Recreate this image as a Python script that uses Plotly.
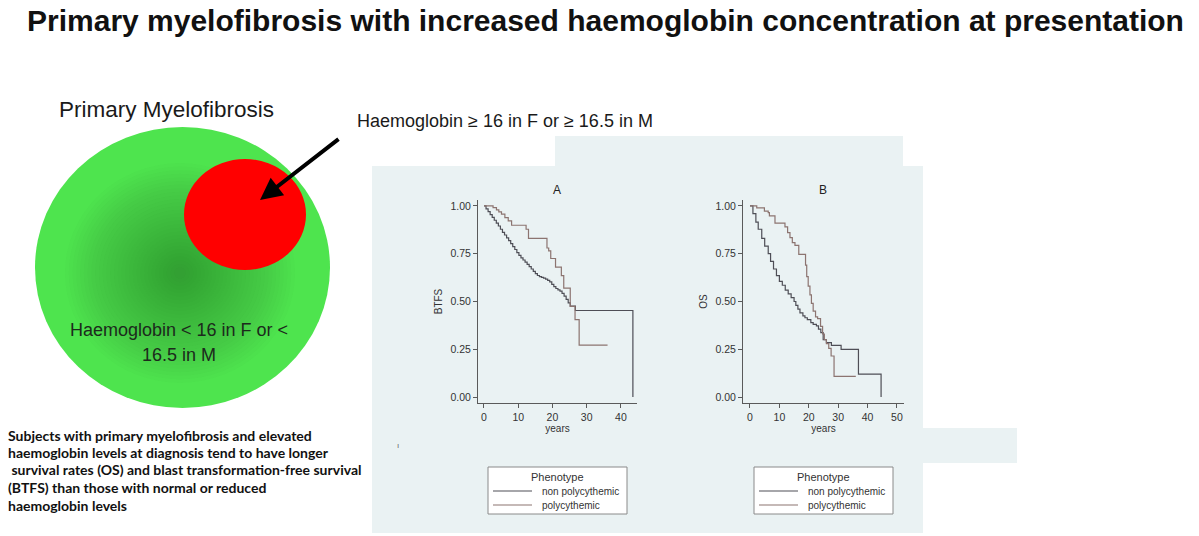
import plotly.graph_objects as go

W, H = 1199, 536

# ---------------- data ----------------
# Panel A: blast transformation-free survival (BTFS)
a_np_t = [0, 0.6, 1.2, 1.8, 2.4, 3.0, 3.6, 4.2, 4.8, 5.4, 6.0, 6.6, 7.2, 7.8, 8.4, 9.0, 9.6,
          10.2, 10.8, 11.4, 12.0, 12.6, 13.2, 13.8, 14.4, 15.0, 15.6, 16.2, 16.8, 17.4, 18.0,
          18.6, 19.2, 19.8, 20.4, 21.0, 21.6, 22.2, 22.8, 23.4, 24.0, 24.6, 25.2, 26.7, 43.5, 43.5]
a_np_s = [1.0, 0.985, 0.97, 0.955, 0.94, 0.925, 0.91, 0.895, 0.878, 0.862, 0.848, 0.833, 0.818,
          0.803, 0.787, 0.772, 0.756, 0.741, 0.728, 0.717, 0.706, 0.694, 0.682, 0.67, 0.658,
          0.646, 0.636, 0.63, 0.626, 0.622, 0.617, 0.61, 0.603, 0.59, 0.578, 0.568, 0.561, 0.554,
          0.543, 0.528, 0.511, 0.493, 0.476, 0.453, 0.453, 0.0]
a_p_t = [0, 2.65, 3.64, 4.33, 5.11, 6.1, 7.08, 8.06, 12.3, 13.0, 18.4, 18.9, 19.5, 20.9, 22.6,
         23.3, 25.2, 26.6, 27.8, 36.1]
a_p_s = [1.0, 0.991, 0.979, 0.969, 0.957, 0.939, 0.922, 0.899, 0.878, 0.83, 0.78, 0.765, 0.725,
         0.68, 0.635, 0.57, 0.475, 0.405, 0.272, 0.272]

# Panel B: overall survival (OS)
b_np_t = [0, 1.0, 2.0, 2.8, 4.0, 5.0, 6.2, 7.0, 8.0, 9.0, 10.0, 11.0, 12.0, 13.0, 14.0, 15.0,
          15.6, 16.3, 17.0, 18.0, 18.7, 19.5, 20.7, 21.5, 22.6, 23.3, 24.1, 24.9, 26.0, 27.7,
          31.0, 36.9, 44.6, 44.6]
b_np_s = [1.0, 0.96, 0.915, 0.878, 0.83, 0.79, 0.75, 0.71, 0.67, 0.635, 0.605, 0.585, 0.56,
          0.54, 0.52, 0.5, 0.48, 0.46, 0.44, 0.425, 0.415, 0.405, 0.39, 0.38, 0.372, 0.355, 0.337,
          0.3, 0.285, 0.27, 0.25, 0.12, 0.12, 0.0]
b_p_t = [0, 2.3, 4.9, 6.2, 6.6, 8.5, 11.9, 12.8, 13.6, 14.4, 15.3, 16.6, 18.9, 19.3, 19.8, 20.4,
         20.9, 21.5, 22.3, 23.0, 24.0, 24.7, 25.3, 26.0, 26.8, 27.6, 28.6, 36.0]
b_p_s = [1.0, 0.99, 0.973, 0.965, 0.948, 0.91, 0.89, 0.86, 0.834, 0.808, 0.794, 0.747, 0.69,
         0.63, 0.58, 0.535, 0.49, 0.45, 0.42, 0.41, 0.37, 0.33, 0.3, 0.28, 0.255, 0.215, 0.108,
         0.108]

y_ticks = [0, 0.25, 0.5, 0.75, 1.0]
y_tick_labels = ["0.00", "0.25", "0.50", "0.75", "1.00"]
a_x_ticks = [0, 10, 20, 30, 40]
b_x_ticks = [0, 10, 20, 30, 40, 50]
series_names = ["non polycythemic", "polycythemic"]
legend_title = "Phenotype"

# ---------------- helpers ----------------
def fx(x):
    return x / W


def fy(y):
    return 1 - y / H


NP_COLOR = "#4e4e56"
P_COLOR = "#8c7470"
series_colors = [NP_COLOR, P_COLOR]
PANEL = "#eaf2f3"
AX = "#5a5a5a"
TXT = "#333333"

fig = go.Figure()

for (t, s, name, col, xa, ya) in [
    (a_np_t, a_np_s, series_names[0], NP_COLOR, "x", "y"),
    (a_p_t, a_p_s, series_names[1], P_COLOR, "x", "y"),
    (b_np_t, b_np_s, series_names[0], NP_COLOR, "x2", "y2"),
    (b_p_t, b_p_s, series_names[1], P_COLOR, "x2", "y2"),
]:
    fig.add_trace(go.Scatter(x=t, y=s, mode="lines", name=name, showlegend=False,
                             line=dict(shape="hv", color=col, width=1.2),
                             xaxis=xa, yaxis=ya))

tick_font = dict(family="Liberation Sans, Arial, sans-serif", size=10.5, color=TXT)
title_font = dict(family="Liberation Sans, Arial, sans-serif", size=10, color=TXT)


def xaxis_cfg(domain, rng, ticks, anchor):
    return dict(domain=domain, range=rng, tickvals=ticks, ticks="outside", ticklen=4,
                tickcolor=AX, showline=True, linecolor=AX, linewidth=1, showgrid=False,
                zeroline=False, tickfont=tick_font, anchor=anchor,
                title=dict(text="years", font=title_font, standoff=0), fixedrange=True)


def yaxis_cfg(domain, title, anchor):
    return dict(domain=domain, range=[-0.031, 1.031], tickvals=y_ticks, ticktext=y_tick_labels,
                ticks="outside", ticklen=4, tickcolor=AX, showline=True, linecolor=AX,
                linewidth=1, showgrid=True, gridcolor=PANEL, gridwidth=1, zeroline=False,
                tickfont=tick_font, anchor=anchor,
                title=dict(text=title, font=title_font, standoff=5), fixedrange=True)


shapes = [
    # light panels behind the Stata graphs
    dict(type="rect", xref="paper", yref="paper", x0=fx(372), x1=fx(923), y0=fy(533), y1=fy(166),
         fillcolor=PANEL, line=dict(width=0), layer="below"),
    dict(type="rect", xref="paper", yref="paper", x0=fx(555), x1=fx(903), y0=fy(166), y1=fy(136),
         fillcolor=PANEL, line=dict(width=0), layer="below"),
    dict(type="rect", xref="paper", yref="paper", x0=fx(372), x1=fx(1017), y0=fy(463), y1=fy(428),
         fillcolor=PANEL, line=dict(width=0), layer="below"),
    # green circle
    dict(type="circle", xref="paper", yref="paper", x0=fx(35), x1=fx(330), y0=fy(408), y1=fy(127),
         fillcolor="#4ee44e", line=dict(width=0), layer="above"),
]
# darker radial shading toward the centre of the green circle
cx, cy, rx, ry = 180, 273, 147.5, 141
n_layers = 30
for k in range(n_layers):
    f = 0.78 - k * (0.74 / (n_layers - 1))
    shapes.append(dict(type="circle", xref="paper", yref="paper",
                       x0=fx(cx - rx * f), x1=fx(cx + rx * f),
                       y0=fy(cy + ry * f), y1=fy(cy - ry * f),
                       fillcolor="rgba(30,85,30,0.02)", line=dict(width=0), layer="above"))
# red circle
shapes.append(dict(type="circle", xref="paper", yref="paper", x0=fx(184), x1=fx(306),
                   y0=fy(270), y1=fy(159), fillcolor="#ff0000", line=dict(width=0), layer="above"))

arial = "Liberation Sans, Arial, sans-serif"
para_font = dict(family="Lato, sans-serif", size=14, color="#111111")


def note(text, x, y, xanchor="center", font=None):
    return dict(text=text, x=fx(x), y=fy(y), xref="paper", yref="paper", xanchor=xanchor,
                yanchor="middle", showarrow=False, font=font)


annotations = [
    note("<b>Primary myelofibrosis with increased haemoglobin concentration at presentation</b>",
         25, 20, "left", dict(family=arial, size=30, color="#111111")),
    note("Primary Myelofibrosis", 166, 109, "center", dict(family=arial, size=22.5, color="#1a1a1a")),
    note("Haemoglobin \u2265 16 in F or \u2265 16.5 in M", 355, 121, "left",
         dict(family=arial, size=18, color="#1a1a1a")),
    note("Haemoglobin &lt; 16 in F or &lt;", 179, 330, "center",
         dict(family=arial, size=18, color="#1c2a1c")),
    note("16.5 in M", 179, 355, "center", dict(family=arial, size=18, color="#1c2a1c")),
    note("A", 557, 190, "center", dict(family=arial, size=12, color="#222222")),
    note("B", 823, 190, "center", dict(family=arial, size=12, color="#222222")),
    note("\u0131", 398, 445, "center", dict(family=arial, size=8, color="#666666")),
    # arrow
    dict(text="", x=fx(260), y=fy(200), ax=80, ay=-62, xref="paper", yref="paper",
         showarrow=True, arrowhead=2, arrowsize=1.1, arrowwidth=4, arrowcolor="#000000"),
]
para_lines = [
    "Subjects with primary myelofibrosis and elevated",
    "haemoglobin levels at diagnosis tend to have longer",
    "\u00a0survival rates (OS) and blast transformation-free survival",
    "(BTFS) than those with normal or reduced",
    "haemoglobin levels",
]
para_y = [435, 452, 469, 487, 505]
for line, yy in zip(para_lines, para_y):
    annotations.append(note("<b>" + line + "</b>", 6, yy, "left", para_font))

# Stata-style legend boxes (one under each graph)
for left in (488, 754):
    shapes.append(dict(type="rect", xref="paper", yref="paper", x0=fx(left), x1=fx(left + 139),
                       y0=fy(514), y1=fy(467), fillcolor="#ffffff",
                       line=dict(color="#8a8a8a", width=1), layer="above"))
    annotations.append(note(legend_title, left + 69, 477, "center",
                            dict(family=arial, size=11, color=TXT)))
    for i, (name, col) in enumerate(zip(series_names, series_colors)):
        yy = 491 + 14 * i
        shapes.append(dict(type="line", xref="paper", yref="paper", x0=fx(left + 5),
                           x1=fx(left + 44), y0=fy(yy), y1=fy(yy),
                           line=dict(color=col, width=1.2), layer="above"))
        annotations.append(note(name, left + 52, yy, "left",
                                dict(family=arial, size=10, color=TXT)))

fig.update_layout(
    width=W, height=H,
    margin=dict(l=0, r=0, t=0, b=0),
    paper_bgcolor="#ffffff", plot_bgcolor="#ffffff",
    showlegend=False,
    xaxis=xaxis_cfg([fx(478), fx(637)], [-1.75, 44.7], a_x_ticks, "y"),
    yaxis=yaxis_cfg([fy(403), fy(200)], "BTFS", "x"),
    xaxis2=xaxis_cfg([fx(743), fx(904)], [-2.38, 52.4], b_x_ticks, "y2"),
    yaxis2=yaxis_cfg([fy(403), fy(200)], "OS", "x2"),
    shapes=shapes,
    annotations=annotations,
)

fig.write_html("out.html", config={"displayModeBar": False},
               post_script="document.body.style.margin='0';")
